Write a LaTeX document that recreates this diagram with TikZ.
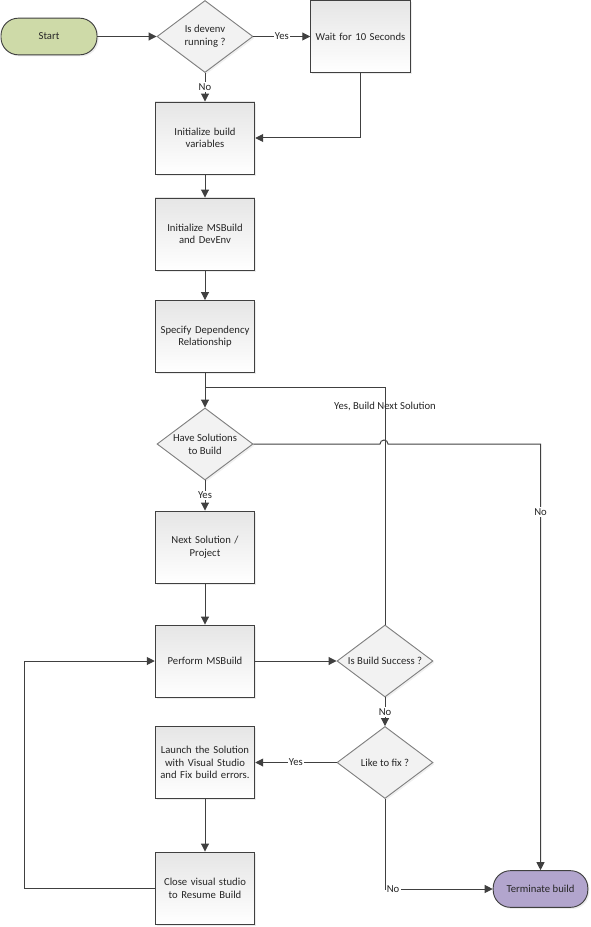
\documentclass[tikz,border=0pt]{standalone}
\usepackage{fontspec}
\setmainfont{Carlito}
\usetikzlibrary{shapes.geometric,arrows.meta,shadows}

\definecolor{startgreen}{RGB}{206,218,168}
\definecolor{endpurple}{RGB}{178,165,205}

\begin{document}
\begin{tikzpicture}[x=0.75pt,y=-0.75pt,
		font=\fontsize{8}{9.5}\selectfont,text=black!85,
		line/.style={draw=black!75,line width=0.75pt},
		arr/.style={line,-{Triangle[length=6pt,width=6pt]}},
		lbl/.style={fill=white,inner sep=1pt},
		procbox/.style={rectangle,draw=black!75,line width=0.7pt,top color=black!10,bottom color=white,
			minimum width=72pt,minimum height=54pt,text width=68pt,align=center,
			drop shadow={shadow xshift=1.2pt,shadow yshift=-1.2pt,opacity=0.15}},
		decision/.style={diamond,aspect=1.333,draw=black!50,line width=0.7pt,fill=black!5,
			minimum width=72pt,minimum height=54pt,inner sep=0pt,align=center,
			drop shadow={shadow xshift=1.2pt,shadow yshift=-1.2pt,opacity=0.12}},
		terminal/.style={rectangle,rounded corners=13pt,draw=black!75,line width=0.7pt,
			minimum width=72pt,minimum height=27.5pt,
			drop shadow={shadow xshift=1.2pt,shadow yshift=-1.2pt,opacity=0.15}}]
		\useasboundingbox (0,0) rectangle (591,927);

		% individual steps
		\node[terminal,fill=startgreen] (start) at (49,36.5) {Start};
		\node[decision] (isdevenv) at (205,36.5) {Is devenv\\running ?};
		\node[procbox] (wait) at (360.5,36.5) {Wait for 10 Seconds};
		\node[procbox] (initvars) at (205,138) {Initialize build\\variables};
		\node[procbox] (initmsb) at (205,234) {Initialize MSBuild\\and DevEnv};
		\node[procbox] (depend) at (205,336.5) {Specify Dependency\\Relationship};
		\node[decision] (havesol) at (205,444) {Have Solutions\\to Build};
		\node[procbox] (nextsol) at (205,547) {Next Solution /\\Project};
		\node[procbox] (perform) at (205,661) {Perform MSBuild};
		\node[decision] (success) at (385,661) {Is Build Success ?};
		\node[decision] (likefix) at (385,762.5) {Like to fix ?};
		\node[procbox] (launch) at (205,762.5) {Launch the Solution\\with Visual Studio\\and Fix build errors.};
		\node[procbox] (closevs) at (205,888) {Close visual studio\\to Resume Build};
		\node[terminal,fill=endpurple,minimum width=71pt] (terminate) at (540.5,889) {Terminate build};

		% helper points
		\coordinate (join) at (205,387);
		\coordinate (jump) at (380,444);
		\coordinate (backloop) at (24,661);

		% main flow
		\draw[arr] (start) -- (isdevenv);
		\draw[arr] (isdevenv) -- node[lbl]{Yes} (wait);
		\draw[arr] (isdevenv) -- node[lbl]{No} (initvars);
		\draw[arr] (wait.south) |- (initvars.east);
		\draw[arr] (initvars) -- (initmsb);
		\draw[arr] (initmsb) -- (depend);
		\draw[arr] (depend) -- (havesol);
		\draw[arr] (havesol) -- node[lbl]{Yes} (nextsol);
		\draw[arr] (nextsol) -- (perform);
		\draw[arr] (perform) -- (success);

		% build result
		\draw[line] (success.north) |- node[pos=0.46]{Yes, Build Next Solution} (join);
		\draw[arr] (success) -- node[lbl]{No} (likefix);
		\draw[arr] (likefix) -- node[lbl]{Yes} (launch);
		\draw[arr] (launch) -- (closevs);
		\draw[arr] (closevs.west) -| (backloop) -- (perform.west);

		% exits
		\draw[arr] (havesol.east) -- (jump) arc[start angle=180,end angle=0,radius=3pt]
			-- (terminate.north |- havesol.east) -- node[lbl,pos=0.16]{No} (terminate.north);
		\draw[arr] (likefix.south) |- node[lbl,pos=0.5,anchor=west]{No} (terminate.west);
	\end{tikzpicture}
\end{document}
